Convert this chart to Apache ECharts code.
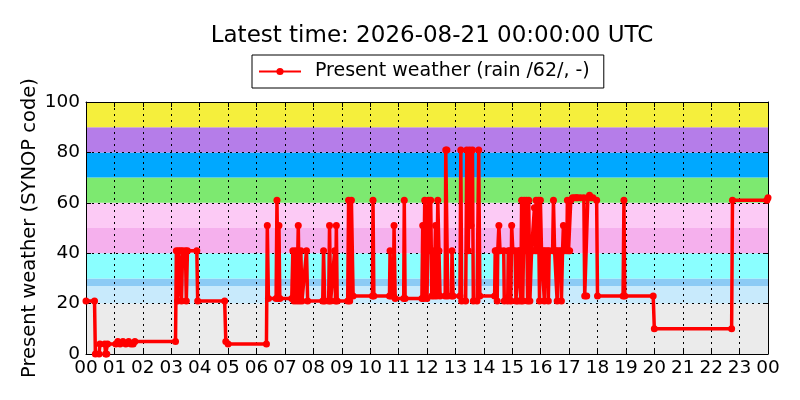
<!DOCTYPE html>
<html>
<head>
<meta charset="utf-8">
<script src="https://cdn.jsdelivr.net/npm/echarts@6/dist/echarts.min.js"></script>
<style>html,body{margin:0;padding:0;background:#fff}#c{width:800px;height:400px}</style>
</head>
<body>
<div id="c"></div>
<script>
// time of observation (hours since 00 UTC)
const hours = [
 0.00,0.30,0.33,0.46,0.49,0.66,0.69,0.73,0.76,1.05,1.12,1.20,1.30,1.40,1.50,1.58,1.66,1.72,
 3.15,3.18,3.22,3.26,3.33,3.36,3.40,3.50,3.53,3.57,3.90,3.93,
 4.88,4.92,5.00,6.35,6.38,6.42,6.69,6.72,6.76,6.79,6.82,
 7.24,7.28,7.32,7.38,7.42,7.47,7.51,7.56,7.60,7.76,7.80,
 8.33,8.36,8.40,8.54,8.57,8.61,8.75,8.78,8.81,8.84,
 9.21,9.24,9.28,9.34,9.40,10.08,10.10,10.13,10.68,10.70,10.74,10.82,10.84,10.88,
 11.18,11.20,11.23,11.82,11.85,11.88,11.92,11.96,12.00,12.05,12.09,12.13,12.17,12.20,12.25,
 12.30,12.34,12.38,12.42,12.46,12.64,12.66,12.70,12.73,12.86,12.88,12.92,
 13.16,13.19,13.22,13.36,13.40,13.45,13.50,13.55,13.60,13.63,13.76,13.82,13.86,
 14.38,14.40,14.45,14.47,14.49,14.53,14.57,14.70,14.72,14.84,14.86,14.92,14.95,14.98,15.02,15.10,15.13,
 15.20,15.22,15.26,15.30,15.33,15.37,15.42,15.46,15.50,15.54,15.58,15.62,15.68,15.74,15.78,15.82,
 15.84,15.88,15.92,15.96,15.99,16.03,16.10,16.13,16.16,16.24,16.27,16.30,16.42,16.45,16.49,
 16.55,16.58,16.62,16.70,16.73,16.77,16.80,16.84,16.92,16.94,16.98,17.02,17.06,17.12,17.20,
 17.26,17.30,17.40,17.52,17.55,17.62,17.66,17.72,17.78,17.84,17.97,18.00,
 18.90,18.93,18.96,19.96,20.00,22.72,22.75,23.96,24.00
];
// present weather SYNOP code
const codes = [
 21,21,0,0,4,4,0,0,4,4,5,4,5,4,5,4,4,5,
 5,41,21,41,41,21,41,41,21,41,41,21,
 21,5,4,4,51,22,22,61,22,51,22,
 22,41,21,41,21,51,21,41,21,41,21,
 21,41,21,21,51,21,41,21,51,21,
 21,61,21,61,23,23,61,23,23,41,23,23,51,22,
 22,61,22,22,51,22,61,41,22,61,41,61,23,41,23,
 51,23,61,41,23,23,81,81,23,23,41,23,
 23,81,21,21,81,41,81,51,81,21,21,81,23,
 23,41,41,21,41,51,41,41,21,21,41,41,21,51,41,41,21,
 21,41,41,21,61,21,61,41,61,21,61,21,41,41,58,41,
 61,41,61,21,61,41,41,21,41,41,21,41,41,61,41,
 41,21,41,41,21,41,51,41,41,61,41,41,61,62,62,
 62,62,62,62,23,23,62,63,62,62,61,23,
 23,61,23,23,10,10,61,61,62
];
// background code-class bands
const bandLimits = [0,20,27,30,40,50,60,70,80,90,100];
const bandColors = ['#ebebeb','#c8eafc','#8ccbf5','#8affff','#f5b0ed','#fccaf5','#7de970','#00a8ff','#b57de9','#f5ef3c'];
const yTicks = [0,20,40,60,80,100];

const seriesData = hours.map((h,i)=>[h,codes[i]]);
const bands = bandColors.map((c,i)=>[{yAxis:bandLimits[i],itemStyle:{color:c}},{yAxis:bandLimits[i+1]}]);
const hh = v => String(Math.round(v)%24).padStart(2,'0');
const font = 'DejaVu Sans';

const chart = echarts.init(document.getElementById('c'));
const xBase = {type:'value',min:0,max:24,interval:1,z:4,
  axisLine:{show:true,onZero:false,lineStyle:{color:'#000',width:1}},
  axisTick:{show:true,inside:true,length:5,lineStyle:{color:'#000'}},
  splitLine:{show:false}};
const yBase = {type:'value',min:0,max:100,interval:20,z:4,
  axisLine:{show:true,onZero:false,lineStyle:{color:'#000',width:1}},
  axisTick:{show:true,inside:true,length:5,lineStyle:{color:'#000'}},
  splitLine:{show:false}};
chart.setOption({
  animation:false,
  backgroundColor:'#fff',
  title:{text:'Latest time: 2026-08-21 00:00:00 UTC',left:427,top:20,textAlign:'center',
    textStyle:{fontFamily:font,fontSize:23,fontWeight:'normal',color:'#000'}},
  legend:{data:['Present weather (rain /62/, -)'],left:252,top:55,
    padding:[7,14,7,6],itemWidth:42,itemHeight:9,borderColor:'#000',borderWidth:1,borderRadius:0,
    backgroundColor:'#fff',
    textStyle:{fontFamily:font,fontSize:19,color:'#000',padding:[0,0,0,9]}},
  grid:{left:86,right:32,top:102,bottom:46,containLabel:false},
  xAxis:[
    Object.assign({},xBase,{position:'bottom',
      axisLabel:{fontFamily:font,fontSize:18.5,color:'#000',margin:5,formatter:hh},
      splitLine:{show:true,lineStyle:{color:'#000',type:[2,4],width:1}}}),
    Object.assign({},xBase,{position:'top',axisLabel:{show:false}})
  ],
  yAxis:[
    Object.assign({},yBase,{position:'left',
      name:'Present weather (SYNOP code)',nameLocation:'middle',nameGap:46,nameMoveOverlap:false,
      nameTextStyle:{fontFamily:font,fontSize:19.5,color:'#000'},
      axisLabel:{fontFamily:font,fontSize:18.5,color:'#000',margin:6,customValues:yTicks},
      splitLine:{show:true,lineStyle:{color:'#000',type:[2,4],width:1}}}),
    Object.assign({},yBase,{position:'right',axisLabel:{show:false}})
  ],
  series:[
    {name:'bands',type:'line',data:[],z:1,silent:true,
      markArea:{silent:true,data:bands}},
    {name:'Present weather (rain /62/, -)',type:'line',data:seriesData,z:6,
      symbol:'circle',symbolSize:7,showSymbol:true,
      lineStyle:{color:'#ff0000',width:3.5},itemStyle:{color:'#ff0000'}}
  ]
});
</script>
</body>
</html>
